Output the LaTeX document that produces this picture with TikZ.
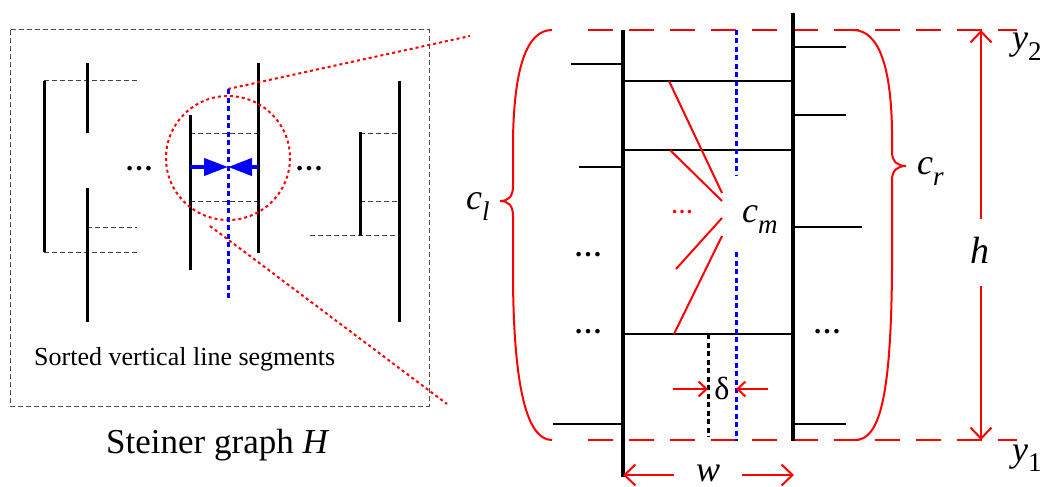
\documentclass[tikz,border=0pt]{standalone}
\usepackage{fontspec}
\setmainfont{Liberation Serif}
\usetikzlibrary{arrows.meta}
\newcommand\fsz[1]{\fontsize{#1}{#1}\selectfont}
\newcommand\sublab[2]{{\fsz{36}\itshape #1}\raisebox{-11pt}{\fsz{27}\itshape #2}}
\begin{document}
\begin{tikzpicture}[x=1pt,y=-1pt,
  seg/.style={line width=3pt},
  thindash/.style={line width=1pt, black!75, dash pattern=on 5pt off 3pt},
  boxdash/.style={line width=1pt, black!70, dash pattern=on 5pt off 3pt},
  bluedot/.style={blue, line width=3pt, dash pattern=on 5pt off 3.5pt},
  blackdot/.style={black, line width=3pt, dash pattern=on 5pt off 3.5pt},
  reddot/.style={red, line width=2pt, dash pattern=on 3pt off 3pt},
  redline/.style={red, line width=2pt},
  reddash/.style={red, line width=2pt, dash pattern=on 25pt off 16pt},
  thickv/.style={line width=4pt},
  hline/.style={line width=2.5pt},
  bluearrow/.style={blue, line width=4pt, -{Triangle[length=24pt,width=17pt]}},
  bigarrow/.style={red, line width=2pt, -{Straight Barb[length=11pt,width=21pt]}},
  smallarrow/.style={red, line width=2pt, -{Straight Barb[length=8pt,width=15pt]}},
  dotsnode/.style={inner sep=0pt, anchor=base, font=\fsz{28}\bfseries},
  lab/.style={inner sep=0pt, anchor=base west}
]
\useasboundingbox (0,0) rectangle (1047,487);

% ---------- left panel ----------
\draw[boxdash] (10,30) rectangle (429,406);
\draw[thindash] (44,81)--(137,81) (44,252)--(137,252) (87,227)--(137,227)
  (190,133)--(258,133) (190,201)--(258,201)
  (360,133)--(399,133) (360,201)--(399,201) (310,235)--(399,235);
\draw[seg] (44,81)--(44,252) (87,63)--(87,133) (87,188)--(87,322)
  (190,115)--(190,270) (258,63)--(258,253) (360,132)--(360,236) (399,81)--(399,322);
\node[dotsnode] (ldots1) at (139,170) {…};
\node[dotsnode] (ldots2) at (309,170) {…};
\draw[reddot] (228,158) circle[radius=62];
\coordinate (zt) at (228,89);
\coordinate (zte) at (470,36);
\coordinate (zb) at (210,226);
\coordinate (zbe) at (447,404);
\draw[reddot] (zt)--(zte) (zb)--(zbe);
\draw[bluedot] (228,89)--(228,301);
\coordinate (bm) at (228,167);
\draw[bluearrow] (190,167)--(bm);
\draw[bluearrow] (258,167)--(bm);
\node[lab, font=\fsz{26}] (sorted) at (34,365) {Sorted vertical line segments};
\node[lab, font=\fsz{35}] (steiner) at (106,453) {Steiner graph \textit{H}};

% ---------- right panel ----------
\draw[reddash] (588,30)--(1017,30) (588,440)--(1017,440);
\draw[hline] (623,81)--(793,81) (623,150)--(793,150) (623,334)--(793,334)
  (571,64)--(623,64) (579,167)--(623,167) (553,424)--(623,424)
  (793,47)--(846,47) (793,115)--(846,115) (793,227)--(862,227) (793,424)--(846,424);
\draw[thickv] (623,30)--(623,477) (793,13)--(793,441);
\draw[bluedot] (736,30)--(736,176) (736,252)--(736,441);
\draw[blackdot] (708,334)--(708,437);
\draw[redline] (669,81)--(722,193) (670,150)--(722,201) (722,218)--(676,269) (722,236)--(674,334);
\node[dotsnode, red, font=\fsz{22}\bfseries] (rdots) at (682,213) {…};
\node[dotsnode] (d1) at (588,256) {…};
\node[dotsnode] (d2) at (588,333) {…};
\node[dotsnode] (d3) at (827,333) {…};
% delta
\coordinate (dl) at (708,389);
\coordinate (dr) at (736,389);
\draw[smallarrow] (673,389)--(dl);
\draw[smallarrow] (768,389)--(dr);
\node[inner sep=0pt, font=\fsz{32}] (delta) at (722,388) {δ};
% w
\coordinate (wl) at (623,475);
\coordinate (wr) at (794,475);
\draw[bigarrow] (674,475)--(wl);
\draw[bigarrow] (742,475)--(wr);
\node[inner sep=0pt, anchor=base, font=\fsz{36}\itshape] (w) at (708,481) {w};
% h
\coordinate (ht) at (981,30);
\coordinate (hb) at (981,440);
\draw[bigarrow] (981,219)--(ht);
\draw[bigarrow] (981,286)--(hb);
\node[inner sep=0pt, anchor=base, font=\fsz{38}\itshape] (h) at (980,263) {h};
% braces
\draw[redline] (552,30) .. controls (526,30) and (514,70) .. (513,140) -- (513,186)
  .. controls (513,197) and (508,201) .. (500,201)
  .. controls (508,201) and (513,205) .. (513,216) -- (513,280)
  .. controls (514,400) and (530,440) .. (552,440);
\draw[redline] (853,30) .. controls (880,30) and (891,70) .. (892,130) -- (892,152)
  .. controls (892,162) and (898,166) .. (906,166)
  .. controls (898,166) and (892,170) .. (892,180) -- (892,270)
  .. controls (891,400) and (879,440) .. (855,440);
% labels
\node[lab] (cl) at (466,209) {\sublab{c}{l}};
\node[lab] (cm) at (742,222) {\sublab{c}{m}};
\node[lab] (cr) at (917,174) {\sublab{c}{r}};
\node[lab] (y2) at (1012,50) {{\fsz{36}\itshape y}\raisebox{-10pt}{\fsz{27}2}};
\node[lab] (y1) at (1012,461) {{\fsz{36}\itshape y}\raisebox{-10pt}{\fsz{27}1}};
\end{tikzpicture}
\end{document}
